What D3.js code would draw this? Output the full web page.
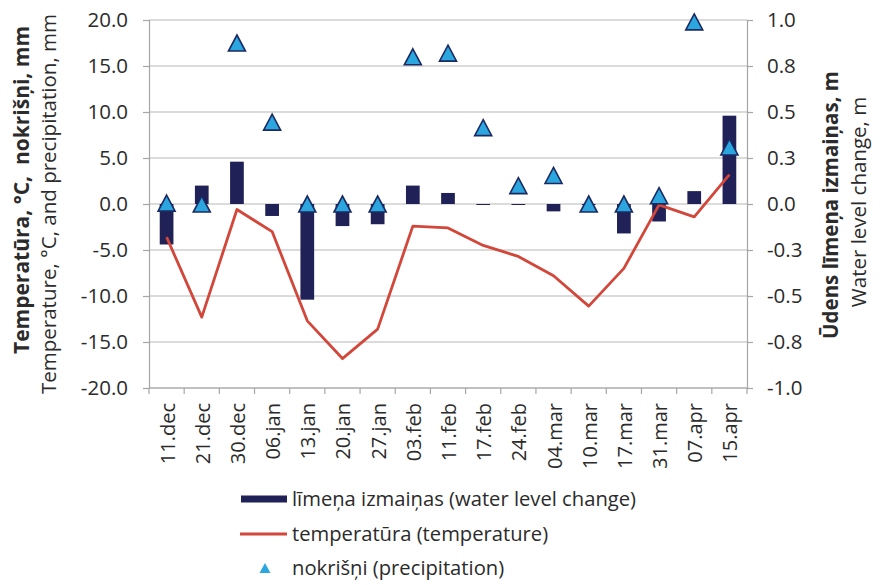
<!doctype html>
<html>
<head>
<meta charset="utf-8">
<script src="https://d3js.org/d3.v7.min.js"></script>
<style>
  body { margin: 0; background: #fff; }
  text { font-family: "Open Sans", sans-serif; fill: #2b2b2b; }
  .pre { white-space: pre; }
</style>
</head>
<body>
<svg width="882" height="585" id="chart"></svg>
<script>
// data
var dates = ["11.dec","21.dec","30.dec","06.jan","13.jan","20.jan","27.jan","03.feb","11.feb",
             "17.feb","24.feb","04.mar","10.mar","17.mar","31.mar","07.apr","15.apr"];
var waterLevel = [-0.22, 0.10, 0.23, -0.065, -0.52, -0.12, -0.11, 0.10, 0.06,
                  -0.005, -0.005, -0.04, 0, -0.16, -0.095, 0.07, 0.48];
var temperature = [-3.6, -12.3, -0.6, -3.0, -12.7, -16.8, -13.6, -2.4, -2.6,
                   -4.5, -5.7, -7.8, -11.1, -7.0, -0.1, -1.4, 3.2];
var precipitation = [0.1, 0.0, 17.5, 8.9, 0.0, 0.0, 0.0, 16.0, 16.4,
                     8.3, 2.0, 3.1, 0.0, 0.0, 0.9, 19.8, 6.2];
var leftTicks = [-20, -15, -10, -5, 0, 5, 10, 15, 20];
var rightTicks = [-1, -0.75, -0.5, -0.25, 0, 0.25, 0.5, 0.75, 1];
var legendLabels = ["līmeņa izmaiņas (water level change)", "temperatūra (temperature)", "nokrišņi (precipitation)"];

var svg = d3.select("#chart");
var plotLeft = 149, plotRight = 747, plotTop = 20, plotBottom = 388;

var barColor = "#1f2157", lineColor = "#d2473a", triFill = "#2ba6de", triStroke = "#1c2a63";

var x = d3.scaleBand().domain(dates).range([plotLeft, plotRight]);
var yL = d3.scaleLinear().domain([-20, 20]).range([plotBottom, plotTop]);
var yR = d3.scaleLinear().domain([-1, 1]).range([plotBottom, plotTop]);
function cx(d) { return x(d) + x.bandwidth() / 2; }

// gridlines
svg.append("g").selectAll("line")
  .data(leftTicks).enter().append("line")
  .attr("x1", plotLeft).attr("x2", plotRight)
  .attr("y1", function(d) { return yL(d); })
  .attr("y2", function(d) { return yL(d); })
  .attr("stroke", "#cfcfcf").attr("stroke-width", 1.5);

// left axis
var gl = svg.append("g").attr("transform", "translate(" + plotLeft + ",0)")
  .call(d3.axisLeft(yL).tickValues(leftTicks).tickSize(6).tickPadding(15)
        .tickFormat(function(d) { return d.toFixed(1); }));
// right axis
var gr = svg.append("g").attr("transform", "translate(" + plotRight + ",0)")
  .call(d3.axisRight(yR).tickValues(rightTicks).tickSize(6).tickPadding(14)
        .tickFormat(function(d) { return d.toFixed(1); }));
[gl, gr].forEach(function(g) {
  g.select(".domain").attr("stroke", "#a6a6a6").attr("stroke-width", 1.2);
  g.selectAll(".tick line").attr("stroke", "#a6a6a6").attr("stroke-width", 1.2);
  g.selectAll(".tick text").attr("font-size", 20.5).attr("fill", "#2b2b2b")
    .style("font-family", "'Open Sans', sans-serif");
});

// x axis
svg.append("line").attr("x1", plotLeft).attr("x2", plotRight).attr("y1", plotBottom).attr("y2", plotBottom)
  .attr("stroke", "#a6a6a6").attr("stroke-width", 1.2);
svg.append("g").selectAll("line")
  .data(dates.concat(["end"])).enter().append("line")
  .attr("x1", function(d) { return d === "end" ? plotRight : x(d); })
  .attr("x2", function(d) { return d === "end" ? plotRight : x(d); })
  .attr("y1", plotBottom).attr("y2", plotBottom + 6)
  .attr("stroke", "#a6a6a6").attr("stroke-width", 1.2);
svg.append("g").selectAll("text")
  .data(dates).enter().append("text")
  .attr("transform", function(d) { return "translate(" + (cx(d) + 1) + ",403) rotate(-90)"; })
  .attr("dy", "0.35em")
  .attr("text-anchor", "end")
  .attr("font-size", 20)
  .text(function(d) { return d; });

// bars (water level, right axis)
var bw = x.bandwidth() * 0.39;
svg.append("g").selectAll("rect")
  .data(dates).enter().append("rect")
  .attr("x", function(d) { return cx(d) - bw / 2; })
  .attr("width", bw)
  .attr("y", function(d, i) { return Math.min(yR(waterLevel[i]), yR(0)); })
  .attr("height", function(d, i) { return Math.max(Math.abs(yR(waterLevel[i]) - yR(0)), 1); })
  .attr("fill", barColor);

// temperature line
var line = d3.line()
  .x(function(d) { return cx(d); })
  .y(function(d, i) { return yL(temperature[i]); });
svg.append("path").datum(dates)
  .attr("d", line)
  .attr("fill", "none").attr("stroke", lineColor).attr("stroke-width", 2.8)
  .attr("stroke-linejoin", "round");

// precipitation triangles
function tri(w, h) { return "M0," + (-h / 2) + "L" + (w / 2) + "," + (h / 2) + "L" + (-w / 2) + "," + (h / 2) + "Z"; }
svg.append("g").selectAll("path")
  .data(dates).enter().append("path")
  .attr("transform", function(d, i) { return "translate(" + cx(d) + "," + yL(precipitation[i]) + ")"; })
  .attr("d", tri(17, 16))
  .attr("fill", triFill).attr("stroke", triStroke).attr("stroke-width", 1.6)
  .attr("stroke-linejoin", "miter");

// axis titles
svg.append("text").attr("class", "pre")
  .attr("transform", "translate(22,190) rotate(-90)")
  .attr("text-anchor", "middle").attr("dy", "0.35em")
  .attr("font-size", 21).attr("font-weight", "bold")
  .text("Temperatūra, °C,  nokrišņi, mm");
svg.append("text")
  .attr("transform", "translate(49,204) rotate(-90)")
  .attr("text-anchor", "middle").attr("dy", "0.35em")
  .attr("font-size", 20.5)
  .text("Temperature, °C, and precipitation, mm");
svg.append("text")
  .attr("transform", "translate(831,205) rotate(-90)")
  .attr("text-anchor", "middle").attr("dy", "0.35em")
  .attr("font-size", 20.5).attr("font-weight", "bold")
  .text("Ūdens līmeņa izmaiņas, m");
svg.append("text")
  .attr("transform", "translate(859,202) rotate(-90)")
  .attr("text-anchor", "middle").attr("dy", "0.35em")
  .attr("font-size", 20.5)
  .text("Water level change, m");

// legend
var lg = svg.append("g");
var rowY = [499, 534, 568];
lg.append("rect").attr("x", 241).attr("y", rowY[0] - 3.5).attr("width", 46).attr("height", 7).attr("fill", barColor);
lg.append("line").attr("x1", 240).attr("x2", 287).attr("y1", rowY[1]).attr("y2", rowY[1])
  .attr("stroke", lineColor).attr("stroke-width", 2.8);
lg.append("path").attr("transform", "translate(265," + rowY[2] + ")").attr("d", tri(11, 10))
  .attr("fill", triFill);
lg.selectAll("text").data(legendLabels).enter().append("text")
  .attr("x", 292).attr("y", function(d, i) { return rowY[i]; })
  .attr("dy", "0.35em").attr("font-size", 20.2)
  .text(function(d) { return d; });
</script>
</body>
</html>
